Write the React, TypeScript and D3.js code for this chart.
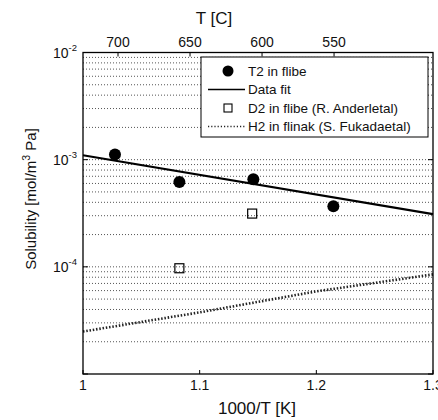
import React from "react";
import * as d3 from "d3";

// T2 in flibe (1000/T, solubility)
const t2X = [1.0274, 1.0826, 1.146, 1.2146];
const t2Y = [1.12e-3, 6.2e-4, 6.55e-4, 3.67e-4];
// Data fit endpoints
const fitX = [1.0, 1.3];
const fitY = [1.1e-3, 3.1e-4];
// D2 in flibe (R. Anderl et al)
const d2X = [1.0826, 1.145];
const d2Y = [9.7e-5, 3.14e-4];
// H2 in flinak (S. Fukada et al)
const h2X = [1.0, 1.1, 1.2, 1.3];
const h2Y = [2.49e-5, 3.76e-5, 5.9e-5, 8.5e-5];

const xTicks = [1, 1.1, 1.2, 1.3];
const xTickLabels = ["1", "1.1", "1.2", "1.3"];
const topTicks = [700, 650, 600, 550];
const yDecades = [-5, -4, -3, -2];

const legendLabels = [
  "T2 in flibe",
  "Data fit",
  "D2 in flibe (R. Anderletal)",
  "H2 in flinak (S. Fukadaetal)",
];

const L = 83, R = 433, T = 52.5, B = 374;
const FONT = "Liberation Sans, Arial, sans-serif";

export default function App() {
  const x = d3.scaleLinear().domain([1, 1.3]).range([L, R]);
  const y = d3.scaleLog().domain([1e-5, 1e-2]).range([B, T]);
  const xTop = d3.scaleLinear().domain([724.3, 481.3]).range([L, R]);

  const grid: number[] = [];
  for (const d of [-5, -4, -3]) {
    for (let k = 1; k <= 9; k++) {
      const v = k * Math.pow(10, d);
      if (v > 1e-5 && v < 1e-2) grid.push(v);
    }
  }

  const lineGen = d3
    .line<[number, number]>()
    .x((d) => x(d[0]))
    .y((d) => y(d[1]));
  const fitPath = lineGen(fitX.map((v, i) => [v, fitY[i]] as [number, number]));
  const h2Path = lineGen(h2X.map((v, i) => [v, h2Y[i]] as [number, number]));

  const lgX = 201, lgY = 57, lgW = 227, lgH = 80;
  const rowY = [71, 89.5, 108, 126.5];

  return (
    <svg
      width={438}
      height={420}
      style={{ position: "absolute", left: 0, top: 0, background: "#fff" }}
      fontFamily={FONT}
    >
      <rect x={0} y={0} width={438} height={420} fill="#fff" />
      {/* grid */}
      {grid.map((v, i) => (
        <line
          key={i}
          x1={L}
          x2={R}
          y1={y(v)}
          y2={y(v)}
          stroke="#555"
          strokeWidth={1}
          strokeDasharray="1,2"
        />
      ))}
      {/* H2 line */}
      <path d={h2Path || ""} fill="none" stroke="#222" strokeWidth={2.6} strokeDasharray="1.5,1.8" />
      {/* fit line */}
      <path d={fitPath || ""} fill="none" stroke="#000" strokeWidth={2.2} />
      {/* T2 points */}
      {t2X.map((v, i) => (
        <circle key={i} cx={x(v)} cy={y(t2Y[i])} r={6} fill="#000" />
      ))}
      {/* D2 squares */}
      {d2X.map((v, i) => (
        <rect
          key={i}
          x={x(v) - 4.5}
          y={y(d2Y[i]) - 4.5}
          width={9}
          height={9}
          fill="none"
          stroke="#000"
          strokeWidth={1.2}
        />
      ))}
      {/* frame */}
      <rect x={L} y={T} width={R - L} height={B - T} fill="none" stroke="#000" strokeWidth={1.3} />
      {/* bottom ticks */}
      {xTicks.map((v, i) => (
        <g key={i}>
          <line x1={x(v)} x2={x(v)} y1={B} y2={B - 4} stroke="#000" />
          <text x={x(v)} y={B + 16} fontSize={14} textAnchor="middle" fill="#111">
            {xTickLabels[i]}
          </text>
        </g>
      ))}
      {/* top ticks */}
      {topTicks.map((v, i) => (
        <g key={i}>
          <line x1={xTop(v)} x2={xTop(v)} y1={T} y2={T + 4} stroke="#000" />
          <text x={xTop(v)} y={T - 6} fontSize={14} textAnchor="middle" fill="#111">
            {v}
          </text>
        </g>
      ))}
      {/* y ticks */}
      {yDecades.map((d, i) => (
        <g key={i}>
          <line x1={L} x2={L + 5} y1={y(Math.pow(10, d))} y2={y(Math.pow(10, d))} stroke="#000" />
          <line x1={R} x2={R - 5} y1={y(Math.pow(10, d))} y2={y(Math.pow(10, d))} stroke="#000" />
          {d > -5 && (
            <text x={L - 6} y={y(Math.pow(10, d)) + 5} fontSize={14} textAnchor="end" fill="#111">
              10
              <tspan fontSize={9.5} dy={-7}>
                {d}
              </tspan>
            </text>
          )}
        </g>
      ))}
      {/* axis labels */}
      <text x={257} y={414} fontSize={17} textAnchor="middle" fill="#111">
        1000/T [K]
      </text>
      <text x={214} y={24} fontSize={17} textAnchor="middle" fill="#111">
        T [C]
      </text>
      <text
        transform={`translate(36,199) rotate(-90)`}
        fontSize={15}
        textAnchor="middle"
        fill="#111"
      >
        Solubility [mol/m
        <tspan fontSize={10.5} dy={-6}>3</tspan>
        <tspan dy={6}> Pa]</tspan>
      </text>
      {/* legend */}
      <rect x={lgX} y={lgY} width={lgW} height={lgH} fill="#fff" stroke="#000" strokeWidth={1} />
      <circle cx={228} cy={rowY[0]} r={5.5} fill="#000" />
      <line x1={208} x2={245} y1={rowY[1]} y2={rowY[1]} stroke="#000" strokeWidth={1.5} />
      <rect x={224} y={rowY[2] - 4} width={8} height={8} fill="none" stroke="#000" strokeWidth={1.1} />
      <line x1={208} x2={245} y1={rowY[3]} y2={rowY[3]} stroke="#222" strokeWidth={1.5} strokeDasharray="1.2,2" />
      {legendLabels.map((s, i) => (
        <text key={i} x={248} y={rowY[i] + 4.5} fontSize={13.5} fill="#111">
          {s}
        </text>
      ))}
    </svg>
  );
}
